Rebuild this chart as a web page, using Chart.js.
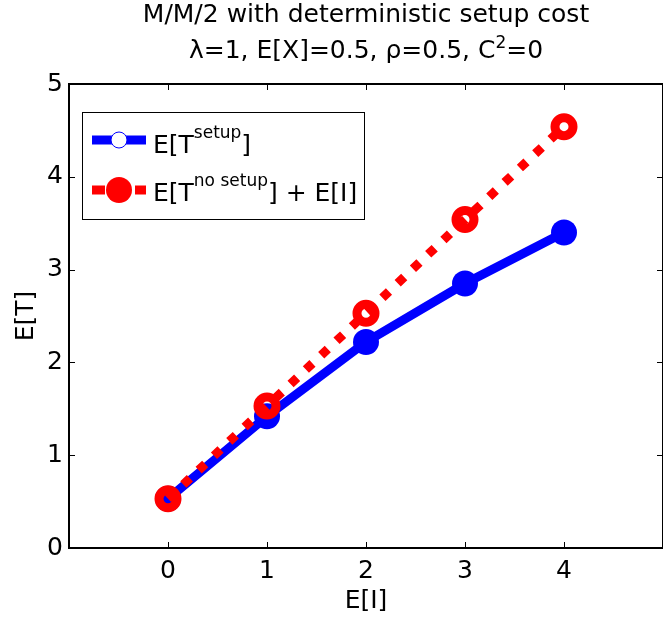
<!DOCTYPE html>
<html>
<head>
<meta charset="utf-8">
<script src="https://cdn.jsdelivr.net/npm/chart.js@4.4.1/dist/chart.umd.min.js"></script>
<style>
  html, body { margin: 0; padding: 0; background: #fff; }
</style>
</head>
<body>
<canvas id="setup" width="663" height="619"></canvas>
<script>
// values
const idleTimes = [0, 1, 2, 3, 4];
const tSetup = [0.53, 1.42, 2.22, 2.85, 3.40];
const tNoSetupPlusIdle = [0.53, 1.53, 2.53, 3.54, 4.54];
const xTicks = [0, 1, 2, 3, 4];
const titleLine1 = [{ t: 'M/M/2 with deterministic setup cost' }];
const titleLine2 = [{ t: 'λ=1, E[X]=0.5, ρ=0.5, C' }, { t: '2', sup: true }, { t: '=0' }];
const legendSetup = [{ t: 'E[T' }, { t: 'setup', sup: true }, { t: ']' }];
const legendNoSetup = [{ t: 'E[T' }, { t: 'no setup', sup: true }, { t: '] + E[I]' }];

const FONT = 'DejaVu Sans';

function partsWidth(ctx, parts, size, supSize) {
  let w = 0;
  parts.forEach(p => {
    ctx.font = (p.sup ? supSize : size) + 'px "' + FONT + '"';
    w += ctx.measureText(p.t).width;
  });
  return w;
}

function richText(ctx, parts, x, base, size, supSize, rise) {
  parts.forEach(p => {
    ctx.font = (p.sup ? supSize : size) + 'px "' + FONT + '"';
    ctx.fillText(p.t, x, p.sup ? base - rise : base);
    x += ctx.measureText(p.t).width;
  });
}

// MATLAB style box with inward ticks on all four sides
const framePlugin = {
  id: 'frame',
  beforeDatasetsDraw(chart) {
    const { ctx, chartArea: a, scales } = chart;
    ctx.save();
    ctx.strokeStyle = '#000';
    ctx.lineWidth = 2;
    ctx.strokeRect(a.left, a.top, a.right - a.left, a.bottom - a.top);
    ctx.lineWidth = 1;
    ctx.beginPath();
    scales.x.ticks.forEach(t => {
      const px = Math.round(scales.x.getPixelForValue(t.value)) + 0.5;
      ctx.moveTo(px, a.bottom); ctx.lineTo(px, a.bottom - 6);
      ctx.moveTo(px, a.top); ctx.lineTo(px, a.top + 6);
    });
    scales.y.ticks.forEach(t => {
      const py = Math.round(scales.y.getPixelForValue(t.value)) + 0.5;
      ctx.moveTo(a.left, py); ctx.lineTo(a.left + 6, py);
      ctx.moveTo(a.right, py); ctx.lineTo(a.right - 6, py);
    });
    ctx.stroke();

    // two line title, centred over the axes
    const cx = (a.left + a.right) / 2;
    ctx.fillStyle = '#000';
    ctx.textBaseline = 'alphabetic';
    let w = partsWidth(ctx, titleLine1, 25, 17);
    richText(ctx, titleLine1, cx - w / 2, 22, 25, 17, 10);
    w = partsWidth(ctx, titleLine2, 25, 17);
    richText(ctx, titleLine2, cx - w / 2, 58, 25, 17, 10);
    ctx.restore();
  }
};

const legendPlugin = {
  id: 'boxLegend',
  afterDraw(chart) {
    const { ctx, chartArea: a } = chart;
    const x0 = a.left + 13, y0 = a.top + 28, w = 282, h = 107;
    ctx.save();
    ctx.fillStyle = '#fff';
    ctx.fillRect(x0, y0, w, h);
    ctx.strokeStyle = '#000';
    ctx.lineWidth = 1;
    ctx.strokeRect(x0 + 0.5, y0 + 0.5, w, h);

    // blue entry
    let y = y0 + 28;
    ctx.strokeStyle = '#0000ff';
    ctx.lineWidth = 9;
    ctx.beginPath(); ctx.moveTo(x0 + 10, y); ctx.lineTo(x0 + 64, y); ctx.stroke();
    ctx.fillStyle = '#fff';
    ctx.lineWidth = 1;
    ctx.beginPath(); ctx.arc(x0 + 37, y, 8, 0, Math.PI * 2); ctx.fill(); ctx.stroke();
    ctx.fillStyle = '#000';
    ctx.textBaseline = 'alphabetic';
    richText(ctx, legendSetup, x0 + 71, y + 13, 25, 17, 15);

    // red entry
    y = y0 + 78;
    ctx.strokeStyle = '#ff0000';
    ctx.lineWidth = 9;
    ctx.setLineDash([13, 30]);
    ctx.beginPath(); ctx.moveTo(x0 + 10, y); ctx.lineTo(x0 + 64, y); ctx.stroke();
    ctx.setLineDash([]);
    ctx.fillStyle = '#ff0000';
    ctx.beginPath(); ctx.arc(x0 + 37, y, 13, 0, Math.PI * 2); ctx.fill();
    ctx.fillStyle = '#000';
    richText(ctx, legendNoSetup, x0 + 71, y + 11, 25, 17, 15);
    ctx.restore();
  }
};

const ctx = document.getElementById('setup').getContext('2d');

new Chart(ctx, {
  type: 'line',
  data: {
    datasets: [
      {
        label: 'E[T setup]',
        data: idleTimes.map((x, i) => ({ x: x, y: tSetup[i] })),
        borderColor: '#0000ff',
        backgroundColor: '#0000ff',
        borderWidth: 9,
        pointRadius: 13,
        pointBorderWidth: 0,
        pointBackgroundColor: '#0000ff',
        tension: 0,
        order: 2
      },
      {
        label: 'E[T no setup] + E[I]',
        data: idleTimes.map((x, i) => ({ x: x, y: tNoSetupPlusIdle[i] })),
        borderColor: '#ff0000',
        borderWidth: 9,
        borderDash: [9, 12],
        borderCapStyle: 'butt',
        pointRadius: 9,
        pointBorderWidth: 9,
        pointBorderColor: '#ff0000',
        pointBackgroundColor: 'rgba(0,0,0,0)',
        tension: 0,
        order: 1
      }
    ]
  },
  options: {
    responsive: false,
    animation: false,
    devicePixelRatio: 1,
    layout: { autoPadding: false, padding: { top: 84, right: -3, bottom: 0, left: 0 } },
    plugins: {
      legend: { display: false },
      tooltip: { enabled: false },
      title: { display: false }
    },
    scales: {
      x: {
        type: 'linear',
        min: -1,
        max: 5,
        afterBuildTicks: s => { s.ticks = xTicks.map(v => ({ value: v })); },
        afterFit: s => { s.height = 71; s.paddingLeft = 0; s.paddingRight = 0; },
        grid: { display: false, drawTicks: false },
        border: { display: false },
        ticks: { color: '#000', padding: 8, font: { family: FONT, size: 25 } },
        title: {
          display: true, text: 'E[I]', color: '#000',
          font: { family: FONT, size: 25 },
          padding: { top: 0, bottom: 3 }
        }
      },
      y: {
        min: 0,
        max: 5,
        afterFit: s => { s.width = 69; s.paddingTop = 0; s.paddingBottom = 0; },
        grid: { display: false, drawTicks: false },
        border: { display: false },
        ticks: { stepSize: 1, color: '#000', padding: 6, font: { family: FONT, size: 25 } },
        title: {
          display: true, text: 'E[T]', color: '#000',
          font: { family: FONT, size: 25 },
          padding: { top: 11, bottom: 0 }
        }
      }
    }
  },
  plugins: [framePlugin, legendPlugin]
});
</script>
</body>
</html>
